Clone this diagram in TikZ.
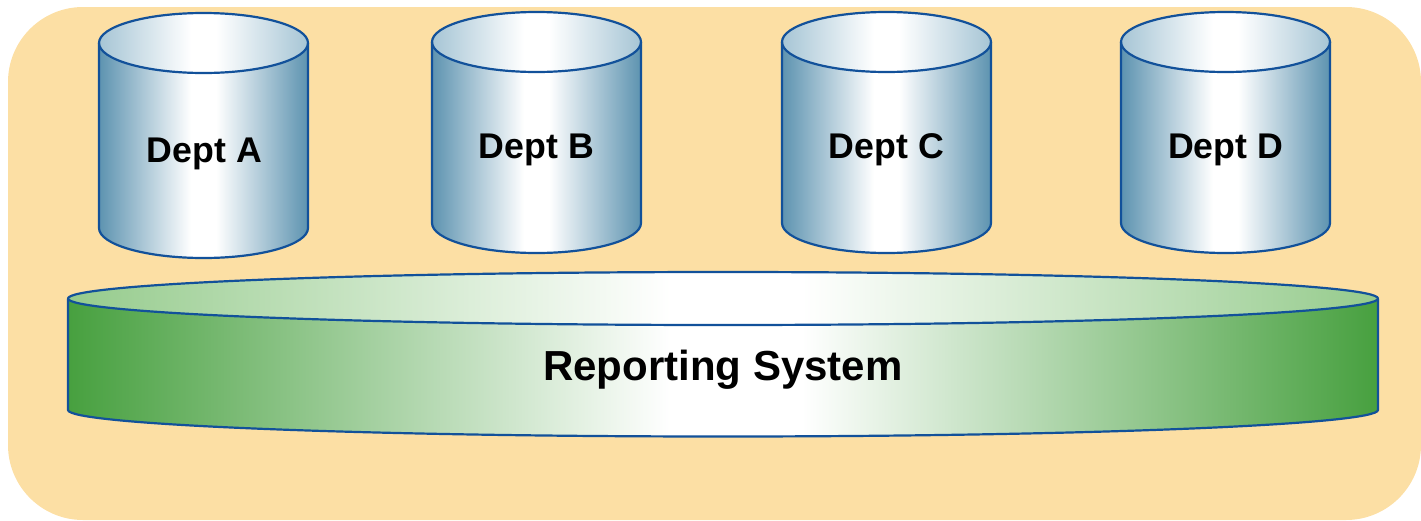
\documentclass[tikz,border=0pt]{standalone}
\usepackage{fontspec}
\setmainfont{Liberation Sans}
\definecolor{panel}{HTML}{FCDFA4}
\definecolor{rim}{HTML}{12519A}
\definecolor{steel}{HTML}{5D93B0}
\definecolor{steellight}{HTML}{A6C5D5}
\definecolor{leaf}{HTML}{47A03F}
\definecolor{leaflight}{HTML}{95CB8C}
% side-to-side sheens with a short white highlight in the middle
\pgfdeclarehorizontalshading{steelsheen}{100bp}{color(0bp)=(steel); color(25bp)=(steel); color(47bp)=(white); color(53bp)=(white); color(75bp)=(steel); color(100bp)=(steel)}
\pgfdeclarehorizontalshading{steellid}{100bp}{color(0bp)=(steellight); color(25bp)=(steellight); color(47bp)=(white); color(53bp)=(white); color(75bp)=(steellight); color(100bp)=(steellight)}
\pgfdeclarehorizontalshading{leafsheen}{100bp}{color(0bp)=(leaf); color(25bp)=(leaf); color(48bp)=(white); color(53bp)=(white); color(75bp)=(leaf); color(100bp)=(leaf)}
\pgfdeclarehorizontalshading{leaflid}{100bp}{color(0bp)=(leaflight); color(25bp)=(leaflight); color(48bp)=(white); color(53bp)=(white); color(75bp)=(leaflight); color(100bp)=(leaflight)}
\tikzset{
  rimline/.style={draw=rim, line width=2.2pt, line join=round},
  dbtext/.style={font=\bfseries\fontsize{35.7}{40}\selectfont, inner sep=0pt, anchor=base},
  systext/.style={font=\bfseries\fontsize{42}{48}\selectfont, inner sep=0pt, anchor=base},
}
% cylinder: #1 centre x, #2 top centre y, #3 bottom centre y, #4 x radius, #5 y radius, #6 side shading, #7 lid shading
\newcommand\dbcylinder[7]{%
  \shade[shading=#6]
    (#1-#4,#2) -- (#1-#4,#3) arc[start angle=180, end angle=0, x radius=#4, y radius=#5]
    -- (#1+#4,#2) arc[start angle=0, end angle=180, x radius=#4, y radius=#5] -- cycle;
  \shade[shading=#7]
    (#1,#2) ellipse[x radius=#4, y radius=#5];
  \path[rimline]
    (#1-#4,#2) -- (#1-#4,#3) arc[start angle=180, end angle=0, x radius=#4, y radius=#5]
    -- (#1+#4,#2);
  \path[rimline] (#1,#2) ellipse[x radius=#4, y radius=#5];
}
\begin{document}
\begin{tikzpicture}[x=1pt, y=-1pt]
\useasboundingbox (0,0) rectangle (1421,520);
% backdrop panel
\fill[panel, rounded corners=75pt] (8,7) rectangle (1421,520);
% department stores
\dbcylinder{203.5}{43}{228}{104.5}{30}{steelsheen}{steellid}
\dbcylinder{536.5}{42}{223}{104.5}{30}{steelsheen}{steellid}
\dbcylinder{886.5}{42}{223}{104.5}{30}{steelsheen}{steellid}
\dbcylinder{1225.5}{42}{223}{104.5}{30}{steelsheen}{steellid}
\node[dbtext] (da) at (204.5,162) {Dept A};
\node[dbtext] (db) at (536.5,158) {Dept B};
\node[dbtext] (dc) at (886.5,158) {Dept C};
\node[dbtext] (dd) at (1225.5,158) {Dept D};
% shared reporting layer
\dbcylinder{723}{298.5}{410}{655}{26.5}{leafsheen}{leaflid}
\node[systext] (rs) at (723,380) {Reporting System};
\end{tikzpicture}
\end{document}
